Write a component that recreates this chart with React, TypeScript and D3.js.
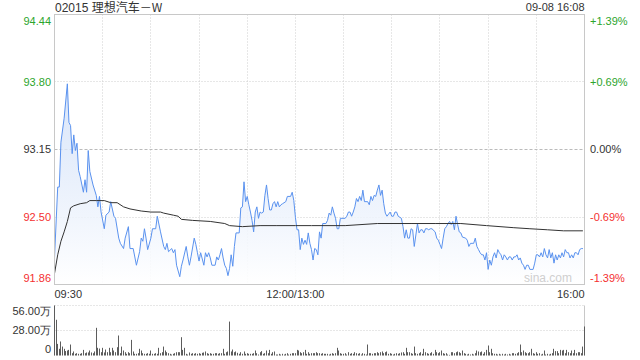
import React from "react";
import * as d3 from "d3";

const titleCode = "02015 ";
const titleName = "理想汽车－W";
const timestamp = "09-08 16:08";
const prevClose = 93.15;
const priceTicks = [94.44, 93.8, 93.15, 92.5, 91.86];
const priceTickLabels = ["94.44", "93.80", "93.15", "92.50", "91.86"];
const pctTickLabels = ["+1.39%", "+0.69%", "0.00%", "-0.69%", "-1.39%"];
const timeLabels = ["09:30", "12:00/13:00", "16:00"];
const timeLabelMinutes = [0, 150, 330];
const gridMinutes = [30, 60, 90, 120, 150, 180, 210, 240, 270, 300];
const volTicks = [56, 28, 0];
const volTickLabels = ["56.00万", "28.00万", "0"];

// minute index (0 = 09:30, 150 = 12:00/13:00, 330 = 16:00) and last price
const priceMinutes = [
  0, 2, 3, 4, 6, 8, 9, 10, 11, 12, 13, 14, 15, 16, 18, 19, 20, 21, 22, 24, 26, 27, 28, 29, 31, 32, 34, 35, 37, 38,
  40, 41, 43, 44, 46, 47, 49, 51, 53, 54, 55, 56, 57, 58, 60, 61, 63, 64, 66, 68, 69, 70, 71, 73, 74, 75, 76, 78, 79, 80,
  82, 83, 84, 85, 87, 88, 89, 90, 91, 93, 94, 95, 96, 97, 98, 100, 101, 102, 103, 104, 105, 106, 107, 108, 109, 110, 111, 112, 113, 115,
  116, 117, 118, 119, 120, 121, 122, 123, 124, 125, 126, 127, 128, 129, 130, 131, 132, 133, 134, 135, 136, 137, 138, 139, 140, 141, 142, 144, 145, 147,
  148, 149, 150, 151, 152, 153, 154, 155, 156, 157, 158, 159, 160, 161, 162, 163, 164, 165, 166, 167, 169, 170, 171, 172, 173, 174, 175, 176, 177, 178,
  179, 181, 182, 183, 184, 185, 186, 187, 188, 189, 190, 191, 192, 193, 194, 195, 196, 197, 198, 199, 200, 201, 202, 203, 204, 205, 206, 207, 208, 209,
  210, 211, 212, 213, 214, 216, 217, 218, 219, 220, 221, 222, 223, 224, 225, 226, 227, 228, 229, 230, 231, 232, 233, 234, 235, 237, 238, 239, 240, 241,
  242, 243, 244, 245, 246, 247, 248, 249, 250, 251, 252, 253, 254, 256, 257, 258, 259, 260, 261, 262, 263, 264, 265, 266, 267, 268, 269, 270, 271, 272,
  273, 274, 275, 276, 277, 278, 279, 280, 281, 282, 283, 284, 285, 286, 287, 288, 289, 290, 291, 292, 293, 294, 295, 296, 298, 299, 300, 301, 302, 303,
  304, 305, 306, 307, 308, 309, 310, 311, 312, 313, 314, 315, 316, 317, 318, 319, 320, 321, 322, 323, 324, 325, 326, 327, 328, 329,
];
const prices = [
  92.11, 92.79, 92.79, 93.22, 93.45, 93.78, 93.41, 93.38, 93.11, 93.29, 93.14, 93.21, 92.95, 92.89, 92.74, 92.86, 92.74, 93.14, 92.94, 92.81, 92.71, 92.6, 92.7, 92.55, 92.39, 92.52, 92.55, 92.65, 92.51, 92.49,
  92.3, 92.25, 92.2, 92.3, 92.41, 92.2, 92.2, 92.04, 92.17, 92.3, 92.27, 92.39, 92.3, 92.19, 92.3, 92.39, 92.39, 92.51, 92.36, 92.22, 92.19, 92.25, 92.17, 92.2, 92.16, 92.19, 92.04, 91.93, 92.03, 92.09,
  92.22, 92.12, 92.04, 92.12, 92.3, 92.24, 92.16, 92.08, 92.16, 92.04, 92.16, 92.12, 92.16, 92.11, 92.04, 92.04, 92.12, 92.09, 92.14, 92.2, 92.11, 92.04, 92.01, 91.94, 92.01, 92.14, 92.03, 92.22, 92.35, 92.35,
  92.59, 92.6, 92.84, 92.65, 92.7, 92.62, 92.55, 92.47, 92.36, 92.55, 92.6, 92.49, 92.55, 92.54, 92.55, 92.71, 92.81, 92.68, 92.57, 92.57, 92.63, 92.65, 92.6, 92.65, 92.6, 92.62, 92.63, 92.65, 92.7, 92.7,
  92.74, 92.66, 92.5, 92.38, 92.38, 92.19, 92.3, 92.24, 92.28, 92.24, 92.35, 92.25, 92.19, 92.09, 92.2, 92.19, 92.14, 92.36, 92.3, 92.44, 92.44, 92.47, 92.54, 92.52, 92.6, 92.54, 92.49, 92.39, 92.39, 92.49,
  92.49, 92.49, 92.51, 92.55, 92.55, 92.51, 92.55, 92.6, 92.68, 92.65, 92.7, 92.66, 92.76, 92.65, 92.65, 92.65, 92.62, 92.7, 92.66, 92.71, 92.7, 92.76, 92.81, 92.71, 92.76, 92.63, 92.54, 92.51, 92.53, 92.55,
  92.51, 92.51, 92.55, 92.55, 92.51, 92.49, 92.41, 92.3, 92.38, 92.3, 92.3, 92.39, 92.38, 92.22, 92.33, 92.44, 92.35, 92.38, 92.38, 92.35, 92.39, 92.39, 92.38, 92.39, 92.39, 92.36, 92.3, 92.28, 92.24, 92.2,
  92.3, 92.39, 92.41, 92.44, 92.46, 92.43, 92.46, 92.38, 92.51, 92.43, 92.36, 92.35, 92.31, 92.3, 92.28, 92.22, 92.25, 92.25, 92.25, 92.3, 92.22, 92.19, 92.16, 92.14, 92.14, 92.09, 92.16, 92.0, 92.09, 92.04,
  92.12, 92.16, 92.11, 92.19, 92.16, 92.14, 92.09, 92.14, 92.12, 92.09, 92.12, 92.12, 92.09, 92.12, 92.12, 92.14, 92.09, 92.11, 92.06, 92.04, 92.0, 92.04, 92.04, 92.0, 92.0, 92.06, 92.14, 92.14, 92.12, 92.16,
  92.12, 92.2, 92.14, 92.11, 92.19, 92.11, 92.16, 92.06, 92.14, 92.09, 92.14, 92.11, 92.16, 92.12, 92.19, 92.16, 92.16, 92.11, 92.14, 92.11, 92.16, 92.16, 92.14, 92.19, 92.2, 92.2,
];

// average price line
const avgMinutes = [0, 2, 4, 6, 8, 10, 12, 16, 20, 22, 26, 31, 35, 39, 43, 47, 54, 60, 66, 68, 74, 77, 79, 86, 97, 106, 109, 117, 128, 138, 150, 160, 181, 201, 222, 237, 253, 269, 286, 296, 307, 317, 329];
const avgPrices = [91.96, 92.14, 92.27, 92.36, 92.46, 92.59, 92.61, 92.63, 92.64, 92.66, 92.66, 92.66, 92.64, 92.64, 92.6, 92.58, 92.56, 92.55, 92.55, 92.54, 92.52, 92.51, 92.48, 92.47, 92.46, 92.44, 92.42, 92.41, 92.42, 92.42, 92.42, 92.42, 92.42, 92.44, 92.44, 92.44, 92.44, 92.42, 92.4, 92.39, 92.38, 92.37, 92.37];

// volume per minute, in 万 shares
const volumes = [
  57, 40, 13, 7.5, 15.7, 10, 7.5, 5, 5.6, 6.3, 12.3, 2.6, 4.5, 1.9, 2.6, 1.9, 1.9, 2.6, 6.3, 2.6,
  3.4, 3.4, 5.6, 3.4, 2.6, 4.5, 31, 8.6, 7.8, 3.7, 8.6, 3.4, 6.7, 3.7, 8.6, 3.7, 8.6, 5.6, 3.7, 9.3,
  22.4, 2.6, 10, 5.6, 3.7, 1.9, 3.7, 2.6, 17.5, 4.5, 1.9, 1.9, 2.6, 7.5, 5.6, 2.6, 1.9, 1.9, 2.6, 1.9,
  5.6, 1.9, 1.9, 2.6, 1.9, 8.6, 2.6, 3.7, 10, 5.6, 3.7, 2.6, 1.9, 1.1, 1.9, 2.6, 3.7, 3.7, 3.7, 20.5,
  6.3, 8.6, 1.9, 1.1, 3.4, 1.9, 2.6, 1.9, 2.6, 1.9, 2.6, 1.9, 3.0, 3.4, 4.5, 2.6, 1.9, 2.6, 1.9, 1.9,
  2.6, 2.6, 1.9, 2.6, 2.6, 7.5, 1.9, 3.7, 4.5, 38, 4.5, 6.7, 3.7,
  4.5, 3.0, 1.9, 3.7, 1.9, 4.5, 1.9, 2.6, 1.9, 1.9, 1.9, 2.6, 5.6, 2.6, 1.1, 3.7, 4.9, 1.9, 2.6, 5.6,
  2.6, 6.3, 1.9, 3.7, 4.5, 1.1, 1.1, 1.9, 1.1, 1.9, 1.1, 1.9, 2.6, 1.1, 1.9, 2.6, 2.6, 2.6, 6.3, 5.6,
  3.7, 2.6, 3.7, 6.3, 1.9, 3.7, 1.9, 2.6, 2.6, 2.6, 3.7, 2.6, 2.6, 1.9, 2.6, 1.9, 1.9, 1.9, 1.1, 1.9,
  2.6, 1.9, 2.6, 8.6, 5.6, 2.6, 1.9, 1.9, 2.6, 1.1, 3.7, 1.9, 2.6, 1.9, 3.7, 2.6, 1.9, 2.6, 1.1, 2.6,
  1.9, 1.1, 12.3, 2.6, 2.6, 1.9, 2.6, 2.6, 3.7, 2.6, 3.7, 4.5, 2.6, 3.7, 4.5, 1.9, 2.6, 1.9, 1.1, 1.9,
  2.6, 1.9, 2.6, 3.4, 3.7, 1.9, 8.6, 3.7, 3.7,
  2.6, 1.9, 10, 2.6, 1.9, 2.6, 3.7, 1.9, 7.5, 3.7, 2.6, 1.9, 2.6, 3.7, 1.9, 6.3, 3.7, 2.6, 3.7, 5.6,
  2.6, 1.9, 2.6, 1.1, 0.7, 3.7, 3.7, 2.6, 3.7, 4.5, 3.7, 2.6, 5.6, 2.6, 1.9, 1.1, 1.9, 1.1, 1.9, 1.1,
  2.6, 5.6, 4.5, 3.7, 4.5, 1.9, 3.7, 6.3, 11.2, 3.7, 7.5, 2.6, 1.9, 1.9, 1.1, 1.9, 1.1, 1.9, 1.1, 1.9,
  1.1, 1.9, 1.1, 2.6, 2.6, 1.9, 2.6, 3.7, 12.3, 3.7, 5.6, 3.7, 2.6, 2.6, 3.7, 7.5, 2.6, 1.9, 3.7, 1.9,
  2.6, 1.1, 1.9, 5.6, 1.1, 1.9, 1.1, 1.9, 2.6, 7.5, 4.9, 4.9, 2.6, 6.3, 5.6, 6.3, 2.6, 6.3, 3.7, 2.6,
  5.6, 2.6, 6.3, 2.6, 3.7, 3.7, 2.6, 10, 32.5,
];

const FONT = "'Liberation Sans', Arial, sans-serif";
const CJK = "'Noto Sans CJK SC', sans-serif";
const GREEN = "#2ca52c";
const RED = "#f43030";
const GRID = "#cfcfcf";
const BORDER = "#c8c8c8";

const L = 54.5;
const R = 584.5;
const T = 14.5;
const B = 284.5;
const VT = 305.5;
const VB = 355.5;

export default function App() {
  const x = d3.scaleLinear().domain([0, 330]).range([L, R]);
  const y = d3.scaleLinear().domain([prevClose * (1 - 0.0139), prevClose * (1 + 0.0139)]).range([B, T]);
  const yv = d3.scaleLinear().domain([0, 56]).range([VB, VT]);

  const pts = priceMinutes.map((m, i) => [m, prices[i]] as [number, number]);
  const avgPts = avgMinutes.map((m, i) => [m, avgPrices[i]] as [number, number]);
  const line = d3.line<[number, number]>().x((d) => x(d[0])).y((d) => y(d[1]));
  const area = d3.area<[number, number]>().x((d) => x(d[0])).y0(B).y1((d) => y(d[1]));

  const snap = (v: number) => Math.floor(v) + 0.5;
  const colorFor = (i: number) => (i < 2 ? GREEN : i === 2 ? "#333" : RED);
  const labelY = (i: number, yy: number) => (i === 0 ? yy + 6 : i === priceTicks.length - 1 ? yy - 6 : yy);

  return (
    <svg width={640} height={360} style={{ position: "absolute", left: 0, top: 0, background: "#fff" }} fontFamily={FONT}>
      <defs>
        <linearGradient id="fillGrad" x1="0" y1={T} x2="0" y2={B} gradientUnits="userSpaceOnUse">
          <stop offset="0" stopColor="#c9dbf8" stopOpacity={0.95} />
          <stop offset="0.5" stopColor="#dde8fa" stopOpacity={0.8} />
          <stop offset="1" stopColor="#ffffff" stopOpacity={0.9} />
        </linearGradient>
      </defs>
      <rect x={0} y={0} width={640} height={360} fill="#fff" />

      <text x={55} y={12} fontSize={12} fill="#333">
        {titleCode}
        <tspan fontFamily={CJK}>{titleName}</tspan>
      </text>
      <text x={R} y={11} fontSize={11} fill="#333" textAnchor="end">{timestamp}</text>

      {/* price grid */}
      {gridMinutes.map((m) => (
        <line key={"vg" + m} x1={snap(x(m))} x2={snap(x(m))} y1={T} y2={B} stroke={GRID} strokeDasharray="1,2" />
      ))}
      {priceTicks.slice(1, -1).map((p, i) => (
        <line key={"hg" + p} x1={L} x2={R} y1={snap(y(p))} y2={snap(y(p))} stroke={i === 1 ? "#bbb" : GRID}
          strokeDasharray={i === 1 ? "3,2" : "1,2"} />
      ))}

      <path d={area(pts) || ""} fill="url(#fillGrad)" />
      <path d={line(pts) || ""} fill="none" stroke="#5a92ef" strokeWidth={1} strokeLinejoin="round" />
      <path d={line(avgPts) || ""} fill="none" stroke="#333" strokeWidth={1} />

      <rect x={L} y={T} width={R - L} height={B - T} fill="none" stroke={BORDER} />

      <text x={572} y={282} fontSize={12} fill="#cfcfcf" textAnchor="end">sina.com</text>

      {priceTicks.map((p, i) => (
        <text key={"pl" + p} x={51} y={labelY(i, y(p))} dy="0.35em" fontSize={11} fill={colorFor(i)} textAnchor="end">
          {priceTickLabels[i]}
        </text>
      ))}
      {priceTicks.map((p, i) => (
        <text key={"pr" + p} x={590} y={labelY(i, y(p))} dy="0.35em" fontSize={11} fill={colorFor(i)}>
          {pctTickLabels[i]}
        </text>
      ))}

      {timeLabels.map((t, i) => (
        <text key={t} x={x(timeLabelMinutes[i])} y={298} fontSize={11} fill="#333"
          textAnchor={i === 0 ? "start" : i === timeLabels.length - 1 ? "end" : "middle"}>
          {t}
        </text>
      ))}

      {/* volume panel */}
      {volTicks.slice(0, 2).map((v) => (
        <line key={"vgl" + v} x1={L} x2={R} y1={snap(yv(v))} y2={snap(yv(v))} stroke={GRID} strokeDasharray="1,2" />
      ))}
      <line x1={L} x2={L} y1={VT} y2={VB} stroke={BORDER} />
      <line x1={R} x2={R} y1={VT} y2={VB} stroke={BORDER} />
      {volumes.map((v, i) => (
        <rect key={"vb" + i} x={Math.floor(x(i))} y={yv(Math.min(v, 56))} width={1} height={VB - yv(Math.min(v, 56))} fill="#5c5c5c" />
      ))}
      {volTicks.map((v, i) => (
        <text key={"vl" + v} x={51} y={labelY(i === 2 ? 4 : i, yv(v))} dy="0.35em" fontSize={11} fill="#333" textAnchor="end">
          {volTickLabels[i]}
        </text>
      ))}
    </svg>
  );
}
